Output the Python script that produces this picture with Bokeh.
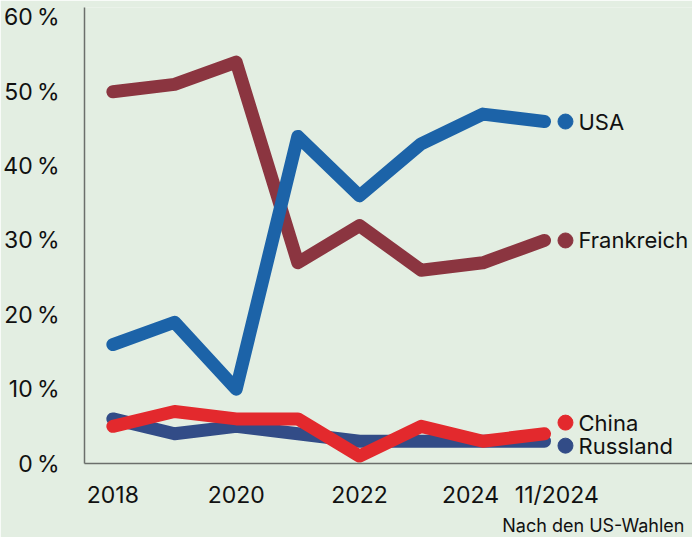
from bokeh.plotting import figure
from bokeh.models import Range1d, FixedTicker, ColumnDataSource, Title
from bokeh.core.properties import value
from bokeh.embed import file_html
from bokeh.resources import INLINE

categories = ["2018", "2019", "2020", "2021", "2022", "2023", "2024", "11/2024"]
usa = [16, 19, 10, 44, 36, 43, 47, 46]
frankreich = [50, 51, 54, 27, 32, 26, 27, 30]
china = [5, 7, 6, 6, 1, 5, 3, 4]
russland = [6, 4, 5, 4, 3, 3, 3, 3]

series_names = ["USA", "Frankreich", "China", "Russland"]
label_y = [46, 30, 5.5, 2.4]
colors = {"USA": "#1c63a8", "Frankreich": "#8b3540", "China": "#e3292d", "Russland": "#324c87"}
y_ticks = [0, 10, 20, 30, 40, 50, 60]
x_tick_pos = [0, 2, 4, 5.8, 7.2]
x_tick_labels = ["2018", "2020", "2022", "2024", "11/2024"]

FONT = "Inter"
BG = "#e3eee2"

xs = list(range(len(categories)))

p = figure(width=692, height=537, output_backend="svg", toolbar_location=None,
           x_range=Range1d(-0.46, 9.4), y_range=Range1d(0, 61.34),
           min_border_left=80, min_border_right=0, min_border_top=7, min_border_bottom=73)
p.background_fill_color = BG
p.border_fill_color = BG
p.outline_line_color = None
p.grid.visible = False

for name, data in [("Frankreich", frankreich), ("USA", usa), ("Russland", russland), ("China", china)]:
    p.line(xs, data, line_color=colors[name], line_width=13,
           line_cap="round", line_join="round")

lx = len(categories) - 1 + 0.34
src = ColumnDataSource(dict(x=[lx] * 4, y=label_y, name=series_names,
                            color=[colors[n] for n in series_names]))
p.scatter("x", "y", source=src, size=15, color="color")
p.text("x", "y", text="name", source=src, x_offset=13, text_align="left",
       text_baseline="middle", text_font=value(FONT), text_font_size="22px",
       text_color="#111111")

p.yaxis.ticker = FixedTicker(ticks=y_ticks)
p.yaxis.major_label_overrides = {t: f"{t}\u2009%" for t in y_ticks}
p.xaxis.ticker = FixedTicker(ticks=x_tick_pos)
p.xaxis.major_label_overrides = {t: l for t, l in zip(x_tick_pos, x_tick_labels)}

for ax in (p.xaxis, p.yaxis):
    ax.axis_line_color = "#6b6f6b"
    ax.axis_line_width = 1.5
    ax.major_tick_line_color = None
    ax.minor_tick_line_color = None
    ax.major_label_text_font = FONT
    ax.major_label_text_color = "#111111"
p.yaxis.major_label_text_font_size = "23px"
p.xaxis.major_label_text_font_size = "23px"
p.yaxis.major_label_standoff = 19
p.xaxis.major_label_standoff = 11

note = Title(text="Nach den US-Wahlen", align="right", text_font=FONT,
             text_font_size="18px", text_font_style="normal", text_color="#111111",
             offset=8, standoff=3)
p.add_layout(note, "below")

open("out.html", "w").write(file_html(p, INLINE))
